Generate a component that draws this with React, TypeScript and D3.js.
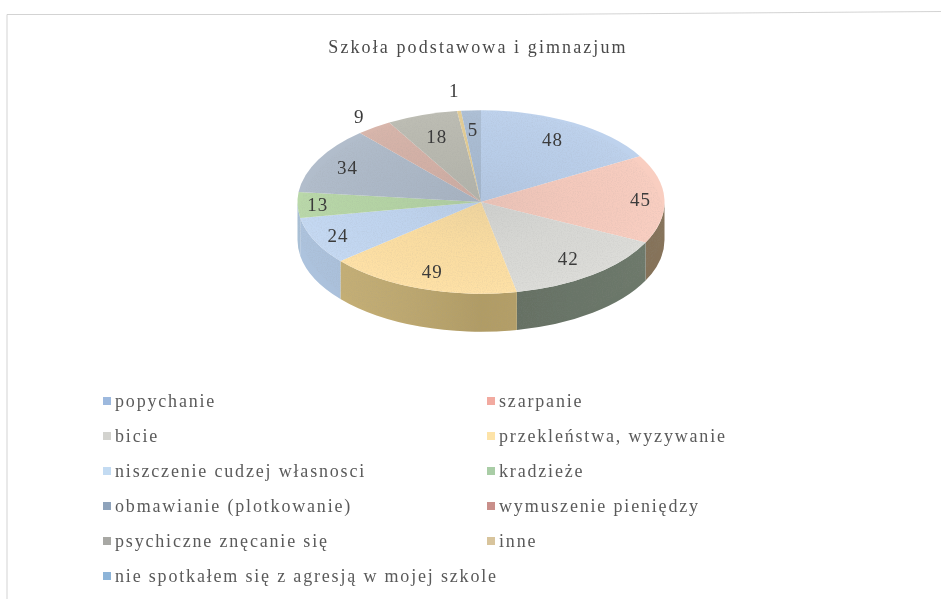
import React from 'react';
import * as d3 from 'd3';

const title = 'Szkoła podstawowa i gimnazjum';

const categories = [
  'popychanie', 'szarpanie', 'bicie', 'przekleństwa, wyzywanie',
  'niszczenie cudzej własnosci', 'kradzieże', 'obmawianie (plotkowanie)',
  'wymuszenie pieniędzy', 'psychiczne znęcanie się', 'inne',
  'nie spotkałem się z agresją w mojej szkole',
];
const values = [48, 45, 42, 49, 24, 13, 34, 9, 18, 1, 5];

const topColors = ['#bbd0ec', '#f9ccbe', '#dbdbd7', '#ffe0a2', '#c2d7f2', '#b6d6a5', '#aebac9', '#d6b2a7', '#babab0', '#e4cc92', '#aabdd4'];
const wallColors = ['#8fa3bf', '#86735a', '#6e7a6c', '#c4ad70', '#a9c0dc', '#a5bdd4', '#8794a6', '#a88b82', '#92928a', '#b5a274', '#8698ae'];
const legendColors = ['#9db9de', '#f2aaa0', '#d3d3cf', '#fde3a8', '#c3dbf2', '#a9cda6', '#8ea3bb', '#c98f8a', '#a8a8a4', '#d8c49c', '#8db4d8'];
// distance of each value label from the centre, as a share of the radius
const labelShare = [0.78, 0.87, 0.78, 0.8, 0.86, 0.89, 0.82, 1.14, 0.75, 1.22, 0.79];

const width = 941;
const height = 599;
const cx = 481;
const cy = 202;
const radius = 183.5;
const squash = 0.5;
const depth = 38;

const pie = d3.pie<number>().sort(null).value(d => d);
const slices = pie(values);
const arc = d3.arc<d3.PieArcDatum<number>>().innerRadius(0).outerRadius(radius);

// side wall of one slice: only the part facing the viewer (angles 90..270)
function wallD(a0: number, a1: number) {
  const from = Math.max(a0, Math.PI / 2);
  const to = Math.min(a1, (3 * Math.PI) / 2);
  if (to <= from) return null;
  const px = (a: number) => cx + radius * Math.sin(a);
  const py = (a: number) => cy - radius * squash * Math.cos(a);
  const ry = radius * squash;
  return `M${px(from)},${py(from)}` +
    `A${radius},${ry} 0 0 1 ${px(to)},${py(to)}` +
    `L${px(to)},${py(to) + depth}` +
    `A${radius},${ry} 0 0 0 ${px(from)},${py(from) + depth}Z`;
}

const legendRows = d3.scalePoint<number>().domain(d3.range(6)).range([401, 576]);
const legendCols = [103, 487];

export default function App() {
  return (
    <svg
      width={width}
      height={height}
      style={{ position: 'absolute', left: 0, top: 0, background: '#fff' }}
      fontFamily="'Liberation Serif', serif"
    >
      <defs>
        <filter id="soft">
          <feGaussianBlur stdDeviation="0.45" />
        </filter>
        <filter id="line">
          <feGaussianBlur stdDeviation="0.5" />
        </filter>
        <filter id="grain" x="0" y="0" width="100%" height="100%">
          <feTurbulence type="fractalNoise" baseFrequency="0.8" numOctaves="2" seed="4" />
          <feColorMatrix values="0 0 0 0 0.3  0 0 0 0 0.3  0 0 0 0 0.3  0 0 0 0.9 -0.36" />
          <feComposite in2="SourceAlpha" operator="in" />
        </filter>
        <radialGradient id="shade" gradientUnits="userSpaceOnUse" cx={cx} cy={cy} r={radius} gradientTransform={`translate(0 ${cy * (1 - squash)}) scale(1 ${squash})`}>
          <stop offset="0" stopColor="#5a6470" stopOpacity="0.1" />
          <stop offset="0.5" stopColor="#5a6470" stopOpacity="0.03" />
          <stop offset="1" stopColor="#fff" stopOpacity="0.05" />
        </radialGradient>
        <linearGradient id="wallShade" gradientUnits="userSpaceOnUse" x1={cx - radius} x2={cx + radius} y1="0" y2="0">
          <stop offset="0" stopColor="#fff" stopOpacity="0.05" />
          <stop offset="0.5" stopColor="#000" stopOpacity="0.1" />
          <stop offset="1" stopColor="#000" stopOpacity="0" />
        </linearGradient>
      </defs>

      <path d="M7,599V14.5H525L941,11.5" filter="url(#line)" fill="none" stroke="#c8c8c8" strokeWidth={0.8} />

      <text x={478} y={53} textAnchor="middle" fontSize={18} letterSpacing={2.1} fill="#4a4a4a" filter="url(#soft)">
        {title}
      </text>

      <g filter="url(#soft)">
        {slices.map((d, i) => {
          const w = wallD(d.startAngle, d.endAngle);
          return w ? (
            <g key={i}>
              <path d={w} fill={wallColors[i]} />
              <path d={w} fill="url(#wallShade)" />
            </g>
          ) : null;
        })}
        <g transform={`translate(${cx},${cy}) scale(1,${squash})`}>
          {slices.map((d, i) => (
            <path key={i} d={arc(d) ?? undefined} fill={topColors[i]} />
          ))}
        </g>
        <ellipse cx={cx} cy={cy} rx={radius} ry={radius * squash} fill="url(#shade)" />
        <ellipse cx={cx} cy={cy + depth / 2} rx={radius} ry={radius * squash + depth / 2} fill="#000" filter="url(#grain)" opacity={0.3} />
      </g>

      <g fontSize={19} letterSpacing={1} textAnchor="middle" fill="#3a3a3a" filter="url(#soft)">
        {slices.map((d, i) => {
          const r = radius * labelShare[i];
          const [x, y] = d3.arc<d3.PieArcDatum<number>>().innerRadius(r).outerRadius(r).centroid(d);
          return (
            <text key={i} x={cx + x} y={cy + y * squash} dy="0.33em">
              {values[i]}
            </text>
          );
        })}
      </g>

      <g filter="url(#soft)">
        {categories.map((c, i) => {
          const y = legendRows(Math.floor(i / 2)) ?? 0;
          const x = legendCols[i % 2];
          return (
            <g key={c}>
              <rect x={x} y={y - 4} width={8} height={8} fill={legendColors[i]} />
              <text x={x + 12} y={y + 5.5} fontSize={18} letterSpacing={1.82} fill="#5a5a5a">
                {c}
              </text>
            </g>
          );
        })}
      </g>
    </svg>
  );
}
